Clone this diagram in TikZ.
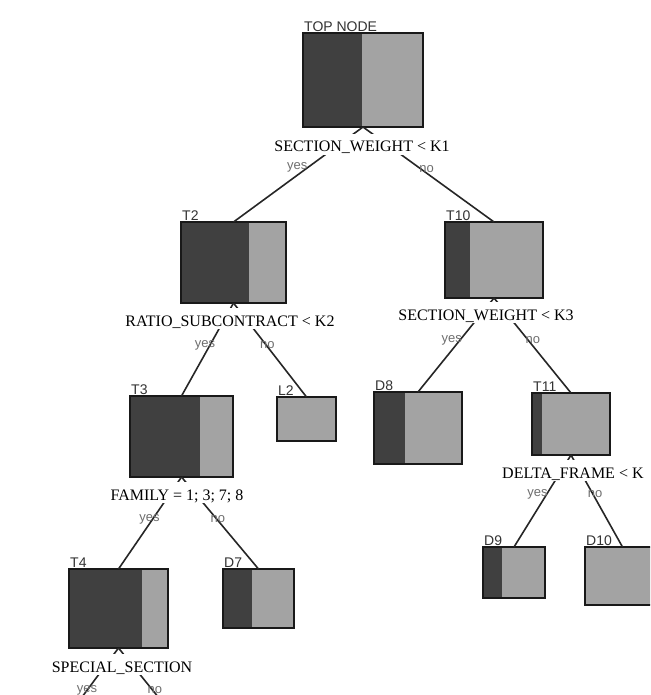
\documentclass[tikz,border=0pt]{standalone}
\usepackage{xcolor}
\usepackage{fontspec}
\usepackage{tikz}
\setmainfont{Liberation Serif}
\newfontfamily\tagfont{Liberation Sans}
\definecolor{classDark}{RGB}{64, 64, 64}
\definecolor{classLight}{RGB}{163, 163, 163}
\definecolor{branchGray}{RGB}{110, 110, 110}
\usetikzlibrary{calc}

\tikzset{
    treebox/.style={
        rectangle,
        draw=black!90,
        line width=1.6pt,
        fill=classLight,
        inner sep=0pt,
        outer sep=0pt,
        path picture={
            \fill[classDark] (path picture bounding box.north west) rectangle
                ($(path picture bounding box.south west)!#1!(path picture bounding box.south east)$);
        }
    },
    nodetag/.style={
        font=\tagfont\fontsize{14}{14}\selectfont,
        text=black!80,
        inner sep=0pt,
        anchor=base west,
        xshift=1pt,
        yshift=2pt
    },
    split/.style={
        fill=white,
        inner sep=0pt,
        text height=18pt,
        text depth=3pt,
        font=\fontsize{16}{18}\selectfont,
        anchor=base
    },
    branch/.style={draw=black!85, line width=1.6pt},
    answer/.style={
        font=\tagfont\fontsize{13}{13}\selectfont,
        text=branchGray,
        inner sep=0pt
    }
}

\begin{document}
\begin{tikzpicture}[x=1pt, y=-1pt]
    \useasboundingbox (0,0) rectangle (650,695);
    \clip (0,0) rectangle (650,695);
    \fill[white] (0,0) rectangle (650,695);

    % boxes of the tree
    \node[treebox=0.49, minimum width=120pt, minimum height=94pt] (top) at (363,80) {};
    \node[treebox=0.65, minimum width=105pt, minimum height=81pt] (t2) at (233.5,262.5) {};
    \node[treebox=0.26, minimum width=98pt, minimum height=76pt] (t10) at (494,260) {};
    \node[treebox=0.68, minimum width=103pt, minimum height=81pt] (t3) at (181.5,436.5) {};
    \node[treebox=0, minimum width=59pt, minimum height=44pt] (l2) at (306.5,419) {};
    \node[treebox=0.35, minimum width=88pt, minimum height=72pt] (d8) at (418,428) {};
    \node[treebox=0.13, minimum width=78pt, minimum height=62pt] (t11) at (571,424) {};
    \node[treebox=0.74, minimum width=99pt, minimum height=79pt] (t4) at (118.5,608.5) {};
    \node[treebox=0.41, minimum width=71pt, minimum height=59pt] (d7) at (258.5,598.5) {};
    \node[treebox=0.3, minimum width=62pt, minimum height=51pt] (d9) at (514,572.5) {};
    \node[treebox=0, minimum width=75pt, minimum height=58pt] (d10) at (622.5,576) {};

    % names above the boxes
    \node[nodetag, yshift=-1pt] (top-tag) at (top.north west) {TOP NODE};
    \node[nodetag] (t2-tag) at (t2.north west) {T2};
    \node[nodetag] (t10-tag) at (t10.north west) {T10};
    \node[nodetag] (t3-tag) at (t3.north west) {T3};
    \node[nodetag] (l2-tag) at (l2.north west) {L2};
    \node[nodetag] (d8-tag) at (d8.north west) {D8};
    \node[nodetag] (t11-tag) at (t11.north west) {T11};
    \node[nodetag] (t4-tag) at (t4.north west) {T4};
    \node[nodetag] (d7-tag) at (d7.north west) {D7};
    \node[nodetag] (d9-tag) at (d9.north west) {D9};
    \node[nodetag] (d10-tag) at (d10.north west) {D10};

    % children of T4 lie below the page
    \coordinate (t4-yes) at (50,740);
    \coordinate (t4-no) at (193,740);

    % branches
    \draw[branch] (top.south) -- node[answer, pos=0.43, xshift=-10pt] {yes} (t2.north);
    \draw[branch] (top.south) -- node[answer, pos=0.44, xshift=6pt] {no} (t10.north);
    \draw[branch] (t2.south) -- node[answer, pos=0.45, xshift=-5pt] {yes} (t3.north);
    \draw[branch] (t2.south) -- node[answer, pos=0.45, xshift=1pt] {no} (l2.north);
    \draw[branch] (t10.south) -- node[answer, pos=0.45, xshift=-8pt] {yes} (d8.north);
    \draw[branch] (t10.south) -- node[answer, pos=0.44, xshift=5pt] {no} (t11.north);
    \draw[branch] (t3.south) -- node[answer, pos=0.46, xshift=-3pt] {yes} (t4.north);
    \draw[branch] (t3.south) -- node[answer, pos=0.46, xshift=1pt] {no} (d7.north);
    \draw[branch] (t11.south) -- node[answer, pos=0.43, xshift=-9pt] {yes} (d9.north);
    \draw[branch] (t11.south) -- node[answer, pos=0.43, xshift=2pt] {no} (d10.north);
    \draw[branch] (t4.south) -- node[answer, pos=0.46] {yes} (t4-yes);
    \draw[branch] (t4.south) -- node[answer, pos=0.46, xshift=2pt] {no} (t4-no);

    % split rules
    \node[split] (top-split) at (362,152) {SECTION\_WEIGHT < K1};
    \node[split] (t2-split) at (230,326) {RATIO\_SUBCONTRACT < K2};
    \node[split] (t10-split) at (486,320) {SECTION\_WEIGHT < K3};
    \node[split] (t3-split) at (177,500) {FAMILY = 1; 3; 7; 8};
    \node[split, anchor=base west] (t11-split) at (502,478) {DELTA\_FRAME < K};
    \node[split] (t4-split) at (122,672) {SPECIAL\_SECTION};
\end{tikzpicture}
\end{document}
